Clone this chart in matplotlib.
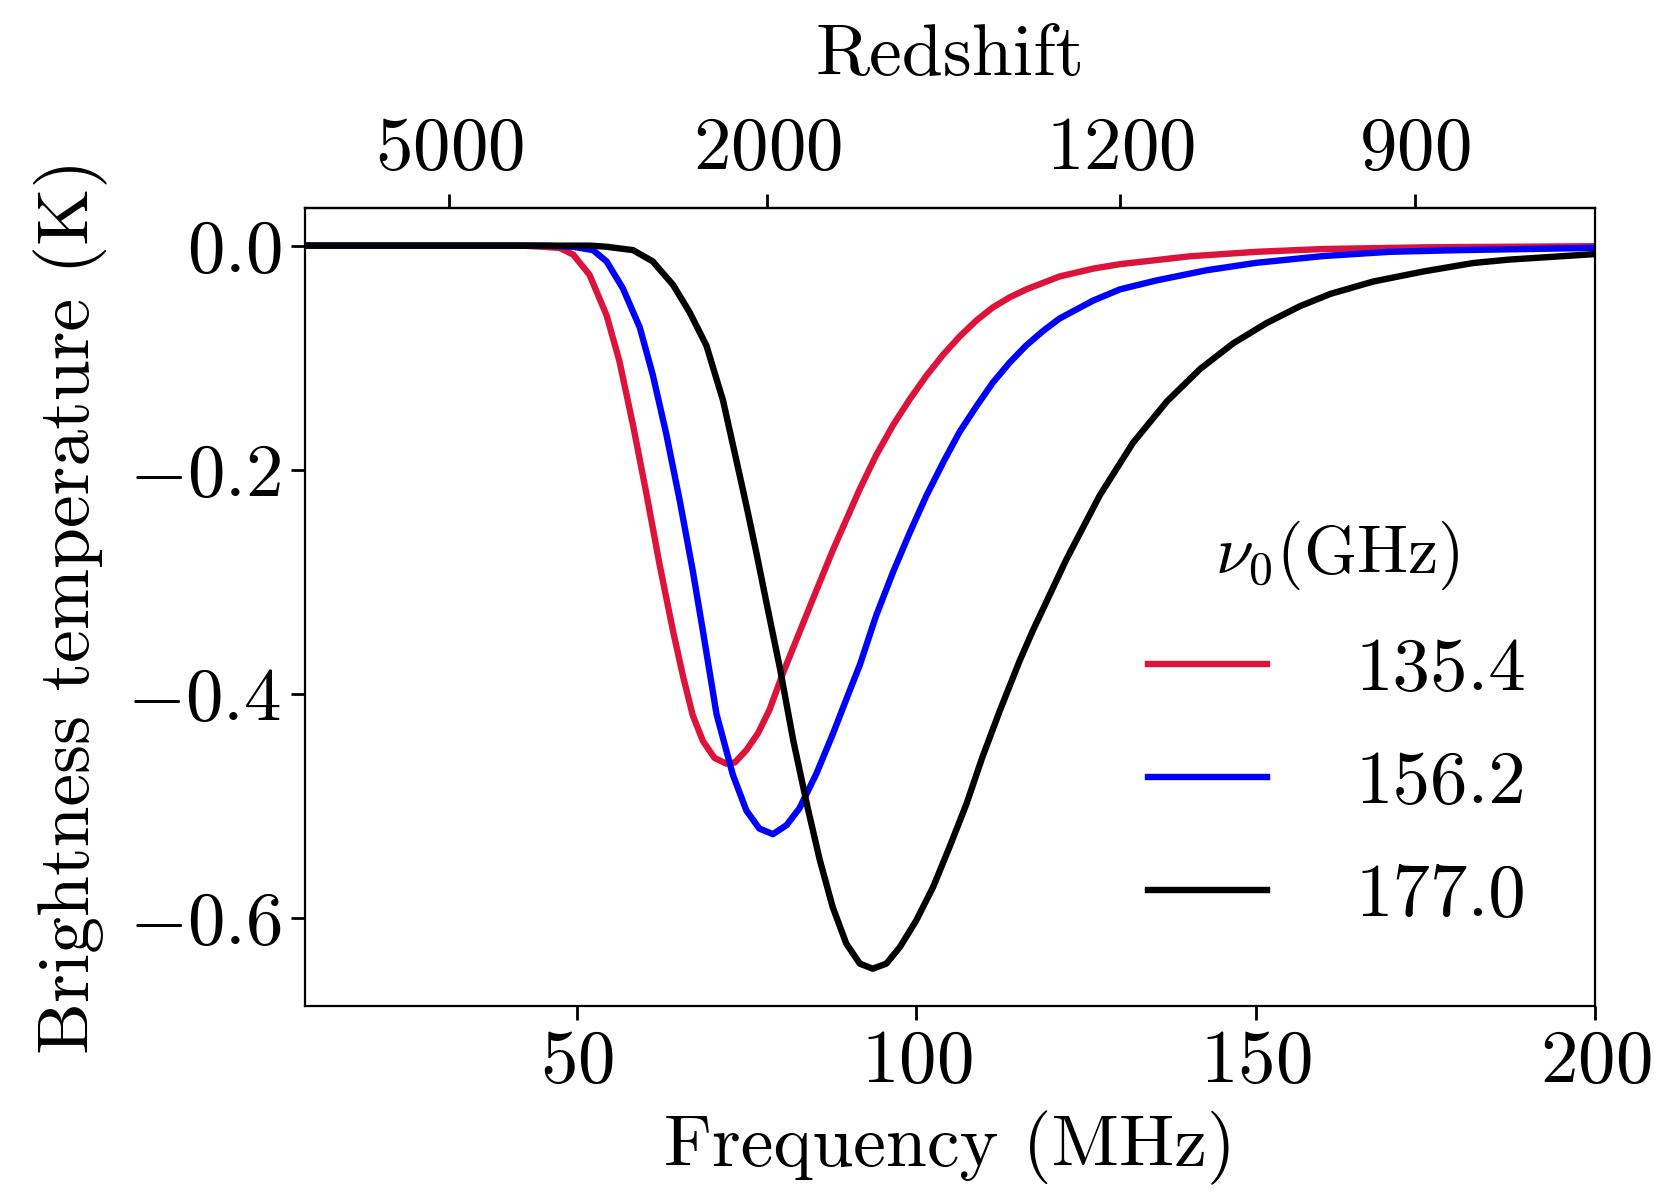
import numpy as np
import matplotlib
matplotlib.use("Agg")
import matplotlib.pyplot as plt
from matplotlib.ticker import FuncFormatter, FixedLocator

# ---------------- data ----------------
freq_red = [10, 42, 45, 47.5, 49.5, 51.9, 54.4, 56.3, 58.3, 60.3, 62.2, 64.2, 65.7,
            67.1, 68.6, 70.3, 72.0, 73.3, 75.0, 76.7, 78.4, 80.4, 82.6, 84.8, 87.7,
            91.7, 94.1, 96.6, 99.05, 101.5, 104.0, 106.4, 108.9, 111.3, 113.8, 116.2,
            121.1, 126.05, 130.0, 140.3, 150.1, 160.0, 175.0, 200.0]
tb_red = [0, 0, -0.001, -0.002, -0.008, -0.026, -0.062, -0.103, -0.160, -0.222,
          -0.284, -0.344, -0.385, -0.419, -0.442, -0.457, -0.462, -0.461, -0.450,
          -0.435, -0.414, -0.381, -0.348, -0.315, -0.272, -0.217, -0.187, -0.160,
          -0.137, -0.116, -0.097, -0.081, -0.0665, -0.055, -0.046, -0.039, -0.0275,
          -0.0205, -0.0165, -0.0095, -0.0055, -0.003, -0.0015, -0.0005]

freq_blue = [10, 45, 49.5, 52.4, 54.4, 56.8, 59.3, 61.2, 63.2, 65.2, 67.1, 68.6, 70.6,
             73.0, 75.0, 76.9, 78.9, 80.9, 82.8, 85.3, 87.7, 90.2, 91.7, 94.1, 96.6,
             99.05, 101.5, 104.0, 106.4, 108.9, 111.3, 113.8, 116.2, 118.7, 121.1,
             126.05, 130.0, 135.4, 142.7, 150.1, 159.9, 169.7, 180.0, 200.0]
tb_blue = [0, 0, -0.001, -0.004, -0.014, -0.038, -0.073, -0.115, -0.168, -0.228,
           -0.290, -0.344, -0.418, -0.472, -0.504, -0.520, -0.525, -0.517, -0.502,
           -0.471, -0.436, -0.397, -0.374, -0.330, -0.291, -0.256, -0.223, -0.193,
           -0.166, -0.143, -0.122, -0.104, -0.089, -0.076, -0.065, -0.049, -0.039,
           -0.031, -0.022, -0.0153, -0.0093, -0.0055, -0.004, -0.002]

freq_black = [10, 52, 54.4, 58.3, 61.2, 64.2, 66.6, 69.1, 71.55, 73.5, 75.0, 76.5,
              77.9, 79.9, 81.9, 84.0, 85.8, 87.7, 89.7, 91.7, 93.6, 95.6, 97.6, 100.0,
              102.5, 104.9, 107.4, 109.7, 112.3, 115.25, 117.2, 122.1, 127.0, 131.9,
              136.9, 141.8, 146.7, 151.6, 156.5, 161.0, 167.3, 174.7, 182.0, 187.2,
              200.0]
tb_black = [0, 0, -0.001, -0.004, -0.014, -0.035, -0.059, -0.089, -0.138, -0.191,
            -0.232, -0.275, -0.317, -0.376, -0.4415, -0.501, -0.548, -0.590, -0.6226,
            -0.6405, -0.645, -0.6405, -0.6257, -0.602, -0.572, -0.5365, -0.498,
            -0.457, -0.415, -0.370, -0.343, -0.280, -0.223, -0.176, -0.139, -0.110,
            -0.087, -0.069, -0.054, -0.043, -0.032, -0.023, -0.0155, -0.0125, -0.0075]

nu0_labels = ["135.4", "156.2", "177.0"]
series_colors = ["crimson", "blue", "black"]

bottom_ticks = [50, 100, 150, 200]
y_ticks = [0.0, -0.2, -0.4, -0.6]
redshift_ticks = [5000, 2000, 1200, 900]
nu_ref_mhz = 156200.0  # frequency-redshift conversion for top axis

# ---------------- style ----------------
plt.rcParams["font.family"] = ["cmr10", "DejaVu Serif"]
plt.rcParams["mathtext.fontset"] = "cm"
plt.rcParams["axes.unicode_minus"] = False
plt.rcParams["axes.formatter.use_mathtext"] = True
FS_TICK = 27
FS_LABEL = 26.5
FS_LEG = 27
FS_TITLE = 24.5

fig = plt.figure(figsize=(8.3, 5.96), dpi=200)
ax = fig.add_axes([0.1837, 0.1563, 0.9611 - 0.1837, 0.8259 - 0.1563])

series = [(freq_red, tb_red), (freq_blue, tb_blue), (freq_black, tb_black)]
for (f, t), lab, col in zip(series, nu0_labels, series_colors):
    ax.plot(f, t, color=col, lw=2.3, label=lab)

ax.set_xlim(10, 200)
ax.set_ylim(-0.678, 0.034)
ax.xaxis.set_major_locator(FixedLocator(bottom_ticks))
ax.yaxis.set_major_locator(FixedLocator(y_ticks))
ax.xaxis.set_major_formatter(FuncFormatter(lambda v, p: r"$%d$" % round(v)))
ax.yaxis.set_major_formatter(FuncFormatter(lambda v, p: r"$%.1f$" % v))
ax.tick_params(axis="both", labelsize=FS_TICK, direction="out", length=5, width=1.0)
ax.set_xlabel("Frequency (MHz)", fontsize=FS_LABEL, labelpad=5)
ax.set_ylabel("Brightness temperature (K)", fontsize=FS_LABEL, labelpad=7)


def f2z(f):
    f = np.asarray(f, dtype=float)
    with np.errstate(divide="ignore"):
        return nu_ref_mhz / f - 1.0


def z2f(z):
    z = np.asarray(z, dtype=float)
    with np.errstate(divide="ignore"):
        return nu_ref_mhz / (z + 1.0)


sec = ax.secondary_xaxis("top", functions=(f2z, z2f))
sec.xaxis.set_major_locator(FixedLocator(redshift_ticks))
sec.xaxis.set_minor_locator(FixedLocator([]))
sec.xaxis.set_major_formatter(FuncFormatter(lambda v, p: r"$%d$" % round(v)))
sec.tick_params(axis="x", labelsize=FS_TICK, direction="out", length=5, width=1.0)
sec.set_xlabel("Redshift", fontsize=FS_LABEL, labelpad=15)

leg = ax.legend(title=r"$\nu_0$(GHz)", fontsize=FS_LEG, title_fontsize=FS_TITLE,
                frameon=False, loc="center", bbox_to_anchor=(0.80, 0.352),
                handlelength=1.58, handletextpad=1.18, labelspacing=0.61)

fig.savefig("out.png", dpi=200)
